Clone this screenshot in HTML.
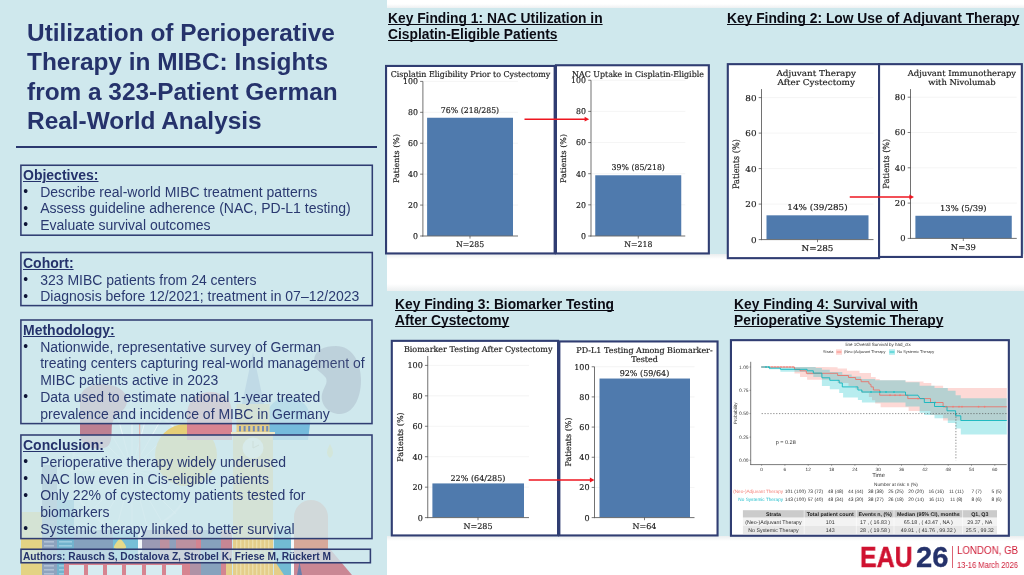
<!DOCTYPE html>
<html lang="en"><head><meta charset="utf-8"><title>Utilization of Perioperative Therapy in MIBC</title>
<style>
html,body{margin:0;padding:0}
body{width:1024px;height:575px;position:relative;overflow:hidden;background:#fff;-webkit-font-smoothing:antialiased;font-family:"Liberation Sans",sans-serif}
.abs{position:absolute}
.title,.txt,.kf,.auth,svg,.lg{will-change:transform}
.panel{left:0;top:0;width:386.6px;height:575px;background:#cfe8ed}
.band{left:386px;width:638px;background:#cfe8ed}
.title{left:27.0px;top:17.65px;font-size:24.42px;line-height:29.35px;font-weight:bold;color:#25326b;white-space:nowrap}
.rule{left:16px;top:145.5px;width:361.3px;height:2px;background:#2b386f}
.box{border:1.6px solid #303d72;box-sizing:border-box;background:rgba(207,232,237,0.87)}
.txt{font-size:14px;line-height:16.67px;color:#2a3970;white-space:nowrap}
.txt b{color:#25326b;text-decoration:underline;text-decoration-thickness:1.2px;text-underline-offset:0.7px}
.li{position:relative;padding-left:17.2px}
.li i{position:absolute;left:0.2px;top:0.3px;font-style:normal;font-size:13.8px;color:#0e1436}
.kf{font-size:13.8px;line-height:15.8px;text-decoration-skip-ink:none;font-weight:bold;color:#0b0b14;text-decoration:underline;text-decoration-thickness:1.4px;text-underline-offset:1.0px;white-space:nowrap}
.auth{font-size:10.2px;line-height:12px;font-weight:bold;color:#25326b;white-space:nowrap}
svg text{font-family:"DejaVu Serif",serif;text-rendering:geometricPrecision}
svg .c text{stroke:#242424;stroke-width:0.18px}
</style></head><body>

<div class="abs panel"></div>
<div class="abs band" style="top:7.8px;height:246.4px"></div>
<div class="abs band" style="top:291.2px;height:245.1px"></div>
<div class="abs" style="left:386.6px;width:637.4px;top:3.5px;height:4.3px;background:linear-gradient(#fff,#eef0f1)"></div>
<div class="abs" style="left:386.6px;width:637.4px;top:254.2px;height:5px;background:linear-gradient(#ebeeef,#fff)"></div>
<div class="abs" style="left:386.6px;width:637.4px;top:284px;height:7.2px;background:linear-gradient(#fff,#eceff0)"></div>
<div class="abs" style="left:386.6px;width:637.4px;top:536.3px;height:5px;background:linear-gradient(#ebeeef,#fff)"></div>
<svg class="abs" style="left:0;top:0;opacity:0.8" width="386" height="575" viewBox="0 0 386 575">
<g stroke="#ffffff" stroke-width="0.9" opacity="0.7">
<line x1="132" y1="470" x2="194.0" y2="470.0"/>
<line x1="132" y1="470" x2="191.9" y2="486.0"/>
<line x1="132" y1="470" x2="185.7" y2="501.0"/>
<line x1="132" y1="470" x2="175.8" y2="513.8"/>
<line x1="132" y1="470" x2="163.0" y2="523.7"/>
<line x1="132" y1="470" x2="148.0" y2="529.9"/>
<line x1="132" y1="470" x2="132.0" y2="532.0"/>
<line x1="132" y1="470" x2="116.0" y2="529.9"/>
<line x1="132" y1="470" x2="101.0" y2="523.7"/>
<line x1="132" y1="470" x2="88.2" y2="513.8"/>
<line x1="132" y1="470" x2="78.3" y2="501.0"/>
<line x1="132" y1="470" x2="72.1" y2="486.0"/>
<line x1="132" y1="470" x2="70.0" y2="470.0"/>
<line x1="132" y1="470" x2="72.1" y2="454.0"/>
<line x1="132" y1="470" x2="78.3" y2="439.0"/>
<line x1="132" y1="470" x2="88.2" y2="426.2"/>
<line x1="132" y1="470" x2="101.0" y2="416.3"/>
<line x1="132" y1="470" x2="116.0" y2="410.1"/>
<line x1="132" y1="470" x2="132.0" y2="408.0"/>
<line x1="132" y1="470" x2="148.0" y2="410.1"/>
<line x1="132" y1="470" x2="163.0" y2="416.3"/>
<line x1="132" y1="470" x2="175.8" y2="426.2"/>
<line x1="132" y1="470" x2="185.7" y2="439.0"/>
<line x1="132" y1="470" x2="191.9" y2="454.0"/>
</g>
<circle cx="132" cy="470" r="60" fill="none" stroke="#fff" stroke-width="2" opacity="0.5"/>
<path d="M80 400 C80 388 92 383 104 384 C118 385 128 392 127 402 C126 412 114 414 112 424 C111 432 113 440 108 446 C100 452 82 448 80 436 Z" fill="#b9677c"/>
<circle cx="186" cy="455" r="31" fill="#ecc85a"/>
<rect x="139" y="424" width="1.3" height="40" fill="#e5a89c"/>
<path d="M187 440 L187 412 Q190 392 212 392 Q232 394 232 414 L232 440 Z" fill="#dc6c7b"/>
<path d="M268 440 L268 410 Q275 396 292 398 Q312 402 310 424 L308 440 Z" fill="#5fb0d8"/>
<path d="M253 352 L264 404 L242 404 Z" fill="#7f9fc8"/>
<rect x="236.5" y="404" width="33" height="28" fill="#eac872"/>
<rect x="231" y="432" width="44" height="2.4" fill="#f5e9bd"/>
<rect x="233" y="434" width="40" height="141" fill="#eac872"/>
<rect x="239" y="426" width="2" height="5.4" fill="#5d74a8"/>
<rect x="243.6" y="426" width="2" height="5.4" fill="#5d74a8"/>
<rect x="248.2" y="426" width="2" height="5.4" fill="#5d74a8"/>
<rect x="252.8" y="426" width="2" height="5.4" fill="#5d74a8"/>
<rect x="257.4" y="426" width="2" height="5.4" fill="#5d74a8"/>
<rect x="262" y="426" width="2" height="5.4" fill="#5d74a8"/>
<rect x="266.2" y="426" width="2" height="5.4" fill="#5d74a8"/>
<circle cx="253" cy="448" r="10.5" fill="#f7f1dc"/>
<path d="M253 441 L253 448 L259 445" stroke="#c9b98a" stroke-width="1" fill="none"/>
<path d="M330 444 Q336 454 330 458 Q324 454 330 444 Z" fill="#e6e08a"/>
<rect x="236" y="538" width="1.4" height="37" fill="#f3dc9a"/>
<rect x="240" y="538" width="1.4" height="37" fill="#f3dc9a"/>
<rect x="244" y="538" width="1.4" height="37" fill="#f3dc9a"/>
<rect x="248" y="538" width="1.4" height="37" fill="#f3dc9a"/>
<rect x="252" y="538" width="1.4" height="37" fill="#f3dc9a"/>
<rect x="256" y="538" width="1.4" height="37" fill="#f3dc9a"/>
<rect x="260" y="538" width="1.4" height="37" fill="#f3dc9a"/>
<rect x="264" y="538" width="1.4" height="37" fill="#f3dc9a"/>
<rect x="268" y="538" width="1.4" height="37" fill="#f3dc9a"/>
<rect x="21" y="512" width="21" height="63" fill="#e9cf6b"/>
<rect x="42" y="465" width="15" height="110" fill="#7e92b3"/>
<rect x="57" y="500" width="17" height="75" fill="#5ba7c6"/>
<rect x="74" y="530" width="39" height="45" fill="#7391b3"/>
<rect x="113" y="530" width="25" height="45" fill="#60b6d2"/>
<rect x="138" y="530" width="4" height="45" fill="#ffffff"/>
<rect x="142" y="530" width="18" height="45" fill="#8f87a6"/>
<rect x="160" y="530" width="41" height="45" fill="#b87c8e"/>
<rect x="201" y="530" width="20" height="45" fill="#7691b2"/>
<rect x="221" y="530" width="11" height="45" fill="#c56f7f"/>
<rect x="274" y="530" width="17" height="45" fill="#5bb1cd"/>
<rect x="291" y="530" width="3" height="45" fill="#ffffff"/>
<rect x="294" y="538" width="34" height="37" fill="#dca181"/>
<rect x="44" y="541" width="10" height="1.6" fill="#a9b8d0"/>
<rect x="59" y="541" width="13" height="1.6" fill="#8fc6dc"/>
<rect x="44" y="545" width="10" height="1.6" fill="#a9b8d0"/>
<rect x="59" y="545" width="13" height="1.6" fill="#8fc6dc"/>
<rect x="44" y="565" width="10" height="1.6" fill="#a9b8d0"/>
<rect x="59" y="565" width="13" height="1.6" fill="#8fc6dc"/>
<rect x="44" y="569" width="10" height="1.6" fill="#a9b8d0"/>
<rect x="59" y="569" width="13" height="1.6" fill="#8fc6dc"/>
<rect x="44" y="573" width="10" height="1.6" fill="#a9b8d0"/>
<rect x="59" y="573" width="13" height="1.6" fill="#8fc6dc"/>
<path d="M120 538 Q127 546 126 548 Q120 552 114 548 Q113 546 120 538 Z" fill="#ecd872"/>
<rect x="169.5" y="538" width="6.5" height="12" fill="#7f8fb0"/>
<rect x="196" y="538" width="5" height="12" fill="#d56c7a"/>
<path d="M294 549 L294 517 A17 17 0 0 1 328 517 L328 549 Z" fill="#d99a86"/>
<rect x="64" y="560" width="126" height="15" fill="#d96c79"/>
<rect x="69" y="565" width="15" height="10" fill="#d9edf2"/>
<rect x="88" y="565" width="15" height="10" fill="#d9edf2"/>
<rect x="107" y="565" width="15" height="10" fill="#d9edf2"/>
<rect x="126" y="565" width="16" height="10" fill="#d9edf2"/>
<rect x="146" y="565" width="16" height="10" fill="#d9edf2"/>
<rect x="166" y="565" width="16" height="10" fill="#d9edf2"/>
<rect x="190" y="560" width="11" height="15" fill="#a87d95"/>
<rect x="221" y="560" width="5" height="15" fill="#d56c7a"/>
<rect x="226" y="560" width="6" height="15" fill="#eac872"/>
<path d="M274 560 L291 560 L291 575 L284 575 Z" fill="#5bb1cd"/><path d="M274 560 L284 575 L274 575 Z" fill="#eac872"/>
<path d="M294 549 L330 549 L352 575 L294 575 Z" fill="#ca707f"/>
<path d="M297 575 L299.5 562 L302 575 Z" fill="#50649a"/>
</svg>
<div class="abs title">Utilization of Perioperative<br>Therapy in MIBC: Insights<br>from a 323-Patient German<br>Real-World Analysis</div>
<div class="abs rule"></div>
<svg class="abs" style="left:18px;top:163px" width="357" height="75"><rect x="2.90" y="2.25" width="351.40" height="69.95" fill="rgb(207,232,237)" fill-opacity="0.77" stroke="#303d72" stroke-width="1.55"/></svg>
<div class="abs txt" style="left:23.4px;top:167.09px;line-height:16.67px"><div><b>Objectives:</b></div><div class="li"><i>•</i>Describe real-world MIBC treatment patterns</div><div class="li"><i>•</i>Assess guideline adherence (NAC, PD-L1 testing)</div><div class="li"><i>•</i>Evaluate survival outcomes</div></div>
<svg class="abs" style="left:18px;top:250px" width="357" height="58"><rect x="2.90" y="2.50" width="351.40" height="53.10" fill="rgb(207,232,237)" fill-opacity="0.77" stroke="#303d72" stroke-width="1.55"/></svg>
<div class="abs txt" style="left:23.4px;top:255.29px;line-height:16.67px"><div><b>Cohort:</b></div><div class="li"><i>•</i>323 MIBC patients from 24 centers</div><div class="li"><i>•</i>Diagnosis before 12/2021; treatment in 07–12/2023</div></div>
<svg class="abs" style="left:18px;top:318px" width="356" height="108"><rect x="2.90" y="2.00" width="351.10" height="103.60" fill="rgb(207,232,237)" fill-opacity="0.77" stroke="#303d72" stroke-width="1.55"/></svg>
<div class="abs txt" style="left:22.7px;top:321.97px;line-height:16.72px"><div><b>Methodology:</b></div><div class="li"><i>•</i>Nationwide, representative survey of German<br>treating centers capturing real-world management of<br>MIBC patients active in 2023</div><div class="li"><i>•</i>Data used to estimate national 1-year treated<br>prevalence and incidence of MIBC in Germany</div></div>
<svg class="abs" style="left:18px;top:433px" width="356" height="108"><rect x="2.90" y="2.00" width="351.10" height="103.60" fill="rgb(207,232,237)" fill-opacity="0.77" stroke="#303d72" stroke-width="1.55"/></svg>
<div class="abs txt" style="left:22.6px;top:436.74px;line-height:16.78px"><div><b>Conclusion:</b></div><div class="li"><i>•</i>Perioperative therapy widely underused</div><div class="li"><i>•</i>NAC low even in Cis-eligible patients</div><div class="li"><i>•</i>Only 22% of cystectomy patients tested for<br>biomarkers</div><div class="li"><i>•</i>Systemic therapy linked to better survival</div></div>
<svg class="abs" style="left:300px;top:340px" width="80" height="80" viewBox="300 340 80 80"><path d="M336 346 C352 346 361 362 361 380 C361 400 352 414 340 414 C328 414 320 404 322 394 C324 386 328 384 326 378 C322 372 313 370 314 360 C315 350 324 346 336 346 Z" fill="rgb(120,120,150)" fill-opacity="0.2"/></svg>
<svg class="abs" style="left:19px;top:547px" width="354" height="18"><rect x="2.00" y="2.25" width="349.40" height="13.50" fill="rgb(207,232,237)" fill-opacity="0.77" stroke="#303d72" stroke-width="1.55"/></svg>
<div class="abs auth" style="left:23.4px;top:550.9px">Authors: Rausch S, Dostalova Z, Strobel K, Friese M, Rückert M</div>
<div class="abs kf" style="left:388.3px;top:11.25px">Key Finding 1: NAC Utilization in<br>Cisplatin-Eligible Patients</div>
<div class="abs kf" style="left:727px;top:11.25px">Key Finding 2: Low Use of Adjuvant Therapy</div>
<div class="abs kf" style="left:394.8px;top:297.25px">Key Finding 3: Biomarker Testing<br>After Cystectomy</div>
<div class="abs kf" style="left:733.6px;top:297.25px">Key Finding 4: Survival with<br>Perioperative Systemic Therapy</div>
<svg class="abs" style="left:0;top:0" width="1024" height="575" viewBox="0 0 1024 575">
<g class="c">
<rect x="386.05" y="65.95" width="168.60000000000005" height="187.5" fill="#fff" stroke="#303d72" stroke-width="2.1"/>
<rect x="555.9499999999999" y="65.25" width="152.9" height="188.20000000000002" fill="#fff" stroke="#303d72" stroke-width="2.1"/>
<line x1="422.9" y1="205.08" x2="518" y2="205.08" stroke="#ededed" stroke-width="0.6"/>
<line x1="422.9" y1="174.16" x2="518" y2="174.16" stroke="#ededed" stroke-width="0.6"/>
<line x1="422.9" y1="143.24" x2="518" y2="143.24" stroke="#ededed" stroke-width="0.6"/>
<line x1="422.9" y1="112.32" x2="518" y2="112.32" stroke="#ededed" stroke-width="0.6"/>
<line x1="422.9" y1="81.40" x2="518" y2="81.40" stroke="#ededed" stroke-width="0.6"/>
<rect x="427.1" y="117.75" width="85.90" height="118.25" fill="#4f7aad"/>
<line x1="422.9" y1="81.40" x2="422.9" y2="236.5" stroke="#6a6a6a" stroke-width="0.95"/>
<line x1="422.4" y1="236" x2="518" y2="236" stroke="#6a6a6a" stroke-width="0.95"/>
<line x1="420.09999999999997" y1="236.00" x2="422.9" y2="236.00" stroke="#444" stroke-width="0.7"/>
<text transform="translate(417.90,238.90) scale(0.975,1)" font-size="8.0" text-anchor="end" fill="#242424">0</text>
<line x1="420.09999999999997" y1="205.08" x2="422.9" y2="205.08" stroke="#444" stroke-width="0.7"/>
<text transform="translate(417.90,207.98) scale(0.975,1)" font-size="8.0" text-anchor="end" fill="#242424">20</text>
<line x1="420.09999999999997" y1="174.16" x2="422.9" y2="174.16" stroke="#444" stroke-width="0.7"/>
<text transform="translate(417.90,177.06) scale(0.975,1)" font-size="8.0" text-anchor="end" fill="#242424">40</text>
<line x1="420.09999999999997" y1="143.24" x2="422.9" y2="143.24" stroke="#444" stroke-width="0.7"/>
<text transform="translate(417.90,146.14) scale(0.975,1)" font-size="8.0" text-anchor="end" fill="#242424">60</text>
<line x1="420.09999999999997" y1="112.32" x2="422.9" y2="112.32" stroke="#444" stroke-width="0.7"/>
<text transform="translate(417.90,115.22) scale(0.975,1)" font-size="8.0" text-anchor="end" fill="#242424">80</text>
<line x1="420.09999999999997" y1="81.40" x2="422.9" y2="81.40" stroke="#444" stroke-width="0.7"/>
<text transform="translate(417.90,84.30) scale(0.975,1)" font-size="8.0" text-anchor="end" fill="#242424">100</text>
<line x1="470" y1="236" x2="470" y2="238.6" stroke="#444" stroke-width="0.7"/>
<text transform="translate(470.50,76.90) scale(0.975,1)" font-size="8.15" text-anchor="middle" fill="#242424">Cisplatin Eligibility Prior to Cystectomy</text>
<text transform="translate(470.00,112.50) scale(0.975,1)" font-size="8.0" text-anchor="middle" fill="#242424">76% (218/285)</text>
<text transform="translate(470.00,247.25) scale(0.975,1)" font-size="8.0" text-anchor="middle" fill="#242424">N=285</text>
<text transform="translate(398.60,158.50) rotate(-90) scale(1,0.975)" font-size="8.0" text-anchor="middle" fill="#242424">Patients (%)</text>
<line x1="591" y1="204.85" x2="685.25" y2="204.85" stroke="#ededed" stroke-width="0.6"/>
<line x1="591" y1="173.70" x2="685.25" y2="173.70" stroke="#ededed" stroke-width="0.6"/>
<line x1="591" y1="142.55" x2="685.25" y2="142.55" stroke="#ededed" stroke-width="0.6"/>
<line x1="591" y1="111.40" x2="685.25" y2="111.40" stroke="#ededed" stroke-width="0.6"/>
<line x1="591" y1="80.25" x2="685.25" y2="80.25" stroke="#ededed" stroke-width="0.6"/>
<rect x="595.25" y="175.27" width="86.00" height="60.73" fill="#4f7aad"/>
<line x1="591" y1="80.25" x2="591" y2="236.5" stroke="#6a6a6a" stroke-width="0.95"/>
<line x1="590.5" y1="236" x2="685.25" y2="236" stroke="#6a6a6a" stroke-width="0.95"/>
<line x1="588.2" y1="236.00" x2="591" y2="236.00" stroke="#444" stroke-width="0.7"/>
<text transform="translate(586.00,238.90) scale(0.975,1)" font-size="8.0" text-anchor="end" fill="#242424">0</text>
<line x1="588.2" y1="204.85" x2="591" y2="204.85" stroke="#444" stroke-width="0.7"/>
<text transform="translate(586.00,207.75) scale(0.975,1)" font-size="8.0" text-anchor="end" fill="#242424">20</text>
<line x1="588.2" y1="173.70" x2="591" y2="173.70" stroke="#444" stroke-width="0.7"/>
<text transform="translate(586.00,176.60) scale(0.975,1)" font-size="8.0" text-anchor="end" fill="#242424">40</text>
<line x1="588.2" y1="142.55" x2="591" y2="142.55" stroke="#444" stroke-width="0.7"/>
<text transform="translate(586.00,145.45) scale(0.975,1)" font-size="8.0" text-anchor="end" fill="#242424">60</text>
<line x1="588.2" y1="111.40" x2="591" y2="111.40" stroke="#444" stroke-width="0.7"/>
<text transform="translate(586.00,114.30) scale(0.975,1)" font-size="8.0" text-anchor="end" fill="#242424">80</text>
<line x1="588.2" y1="80.25" x2="591" y2="80.25" stroke="#444" stroke-width="0.7"/>
<text transform="translate(586.00,83.15) scale(0.975,1)" font-size="8.0" text-anchor="end" fill="#242424">100</text>
<line x1="638.25" y1="236" x2="638.25" y2="238.6" stroke="#444" stroke-width="0.7"/>
<text transform="translate(638.00,76.90) scale(0.975,1)" font-size="8.1" text-anchor="middle" fill="#242424">NAC Uptake in Cisplatin-Eligible</text>
<text transform="translate(638.25,170.25) scale(0.975,1)" font-size="8.0" text-anchor="middle" fill="#242424">39% (85/218)</text>
<text transform="translate(638.25,247.25) scale(0.975,1)" font-size="8.0" text-anchor="middle" fill="#242424">N=218</text>
<text transform="translate(566.45,158.50) rotate(-90) scale(1,0.975)" font-size="8.0" text-anchor="middle" fill="#242424">Patients (%)</text>
<line x1="524.5" y1="119.2" x2="586.7" y2="119.2" stroke="#ee1620" stroke-width="1.6"/>
<path d="M589.2 119.2 L584.6 116.8 L584.6 121.60000000000001 Z" fill="#ee1620"/>
<rect x="727.8" y="64.15" width="151.25000000000003" height="194.0" fill="#fff" stroke="#303d72" stroke-width="2.1"/>
<rect x="879.05" y="64.15" width="142.79999999999998" height="192.8" fill="#fff" stroke="#303d72" stroke-width="2.1"/>
<line x1="761.5" y1="204.10" x2="873.5" y2="204.10" stroke="#ededed" stroke-width="0.6"/>
<line x1="761.5" y1="168.60" x2="873.5" y2="168.60" stroke="#ededed" stroke-width="0.6"/>
<line x1="761.5" y1="133.10" x2="873.5" y2="133.10" stroke="#ededed" stroke-width="0.6"/>
<line x1="761.5" y1="97.60" x2="873.5" y2="97.60" stroke="#ededed" stroke-width="0.6"/>
<rect x="766.5" y="215.32" width="102.00" height="24.28" fill="#4f7aad"/>
<line x1="761.5" y1="89.08" x2="761.5" y2="240.1" stroke="#6a6a6a" stroke-width="0.95"/>
<line x1="761.0" y1="239.6" x2="873.5" y2="239.6" stroke="#6a6a6a" stroke-width="0.95"/>
<line x1="758.7" y1="239.60" x2="761.5" y2="239.60" stroke="#444" stroke-width="0.7"/>
<text transform="translate(756.50,242.50) scale(1.085,1)" font-size="8.15" text-anchor="end" fill="#242424">0</text>
<line x1="758.7" y1="204.10" x2="761.5" y2="204.10" stroke="#444" stroke-width="0.7"/>
<text transform="translate(756.50,207.00) scale(1.085,1)" font-size="8.15" text-anchor="end" fill="#242424">20</text>
<line x1="758.7" y1="168.60" x2="761.5" y2="168.60" stroke="#444" stroke-width="0.7"/>
<text transform="translate(756.50,171.50) scale(1.085,1)" font-size="8.15" text-anchor="end" fill="#242424">40</text>
<line x1="758.7" y1="133.10" x2="761.5" y2="133.10" stroke="#444" stroke-width="0.7"/>
<text transform="translate(756.50,136.00) scale(1.085,1)" font-size="8.15" text-anchor="end" fill="#242424">60</text>
<line x1="758.7" y1="97.60" x2="761.5" y2="97.60" stroke="#444" stroke-width="0.7"/>
<text transform="translate(756.50,100.50) scale(1.085,1)" font-size="8.15" text-anchor="end" fill="#242424">80</text>
<line x1="817.5" y1="239.6" x2="817.5" y2="242.2" stroke="#444" stroke-width="0.7"/>
<text transform="translate(816.20,75.60) scale(1.085,1)" font-size="8.15" text-anchor="middle" fill="#242424">Adjuvant Therapy</text>
<text transform="translate(816.20,85.40) scale(1.085,1)" font-size="8.15" text-anchor="middle" fill="#242424">After Cystectomy</text>
<text transform="translate(817.50,210.40) scale(1.085,1)" font-size="8.15" text-anchor="middle" fill="#242424">14% (39/285)</text>
<text transform="translate(817.50,251.00) scale(1.085,1)" font-size="8.15" text-anchor="middle" fill="#242424">N=285</text>
<text transform="translate(739.20,164.10) rotate(-90) scale(1,1.085)" font-size="8.15" text-anchor="middle" fill="#242424">Patients (%)</text>
<line x1="910.5" y1="203.10" x2="1016.75" y2="203.10" stroke="#ededed" stroke-width="0.6"/>
<line x1="910.5" y1="167.80" x2="1016.75" y2="167.80" stroke="#ededed" stroke-width="0.6"/>
<line x1="910.5" y1="132.50" x2="1016.75" y2="132.50" stroke="#ededed" stroke-width="0.6"/>
<line x1="910.5" y1="97.20" x2="1016.75" y2="97.20" stroke="#ededed" stroke-width="0.6"/>
<rect x="915.4" y="215.77" width="96.35" height="22.63" fill="#4f7aad"/>
<line x1="910.5" y1="89.08" x2="910.5" y2="238.9" stroke="#6a6a6a" stroke-width="0.95"/>
<line x1="910.0" y1="238.4" x2="1016.75" y2="238.4" stroke="#6a6a6a" stroke-width="0.95"/>
<line x1="907.7" y1="238.40" x2="910.5" y2="238.40" stroke="#444" stroke-width="0.7"/>
<text transform="translate(905.50,241.30) scale(1.03,1)" font-size="8.15" text-anchor="end" fill="#242424">0</text>
<line x1="907.7" y1="203.10" x2="910.5" y2="203.10" stroke="#444" stroke-width="0.7"/>
<text transform="translate(905.50,206.00) scale(1.03,1)" font-size="8.15" text-anchor="end" fill="#242424">20</text>
<line x1="907.7" y1="167.80" x2="910.5" y2="167.80" stroke="#444" stroke-width="0.7"/>
<text transform="translate(905.50,170.70) scale(1.03,1)" font-size="8.15" text-anchor="end" fill="#242424">40</text>
<line x1="907.7" y1="132.50" x2="910.5" y2="132.50" stroke="#444" stroke-width="0.7"/>
<text transform="translate(905.50,135.40) scale(1.03,1)" font-size="8.15" text-anchor="end" fill="#242424">60</text>
<line x1="907.7" y1="97.20" x2="910.5" y2="97.20" stroke="#444" stroke-width="0.7"/>
<text transform="translate(905.50,100.10) scale(1.03,1)" font-size="8.15" text-anchor="end" fill="#242424">80</text>
<line x1="963.3" y1="238.4" x2="963.3" y2="241.0" stroke="#444" stroke-width="0.7"/>
<text transform="translate(961.90,75.60) scale(1.03,1)" font-size="8.15" text-anchor="middle" fill="#242424">Adjuvant Immunotherapy</text>
<text transform="translate(961.90,85.40) scale(1.03,1)" font-size="8.15" text-anchor="middle" fill="#242424">with Nivolumab</text>
<text transform="translate(963.30,210.70) scale(1.03,1)" font-size="8.15" text-anchor="middle" fill="#242424">13% (5/39)</text>
<text transform="translate(963.30,250.00) scale(1.03,1)" font-size="8.15" text-anchor="middle" fill="#242424">N=39</text>
<text transform="translate(889.45,163.70) rotate(-90) scale(1,1.03)" font-size="8.15" text-anchor="middle" fill="#242424">Patients (%)</text>
<line x1="849.75" y1="197" x2="911.5" y2="197" stroke="#ee1620" stroke-width="1.6"/>
<path d="M914 197 L909.4 194.6 L909.4 199.4 Z" fill="#ee1620"/>
<rect x="391.8" y="340.85" width="166.25000000000003" height="194.6" fill="#fff" stroke="#303d72" stroke-width="2.1"/>
<rect x="559.3499999999999" y="341.45" width="158.20000000000007" height="194.00000000000003" fill="#fff" stroke="#303d72" stroke-width="2.1"/>
<line x1="427.75" y1="487.16" x2="529" y2="487.16" stroke="#ededed" stroke-width="0.6"/>
<line x1="427.75" y1="456.72" x2="529" y2="456.72" stroke="#ededed" stroke-width="0.6"/>
<line x1="427.75" y1="426.28" x2="529" y2="426.28" stroke="#ededed" stroke-width="0.6"/>
<line x1="427.75" y1="395.84" x2="529" y2="395.84" stroke="#ededed" stroke-width="0.6"/>
<line x1="427.75" y1="365.40" x2="529" y2="365.40" stroke="#ededed" stroke-width="0.6"/>
<rect x="432.4" y="483.42" width="91.60" height="34.18" fill="#4f7aad"/>
<line x1="427.75" y1="355.96" x2="427.75" y2="518.1" stroke="#6a6a6a" stroke-width="0.95"/>
<line x1="427.25" y1="517.6" x2="529" y2="517.6" stroke="#6a6a6a" stroke-width="0.95"/>
<line x1="424.95" y1="517.60" x2="427.75" y2="517.60" stroke="#444" stroke-width="0.7"/>
<text x="422.75" y="520.50" font-size="8.05" text-anchor="end" fill="#242424">0</text>
<line x1="424.95" y1="487.16" x2="427.75" y2="487.16" stroke="#444" stroke-width="0.7"/>
<text x="422.75" y="490.06" font-size="8.05" text-anchor="end" fill="#242424">20</text>
<line x1="424.95" y1="456.72" x2="427.75" y2="456.72" stroke="#444" stroke-width="0.7"/>
<text x="422.75" y="459.62" font-size="8.05" text-anchor="end" fill="#242424">40</text>
<line x1="424.95" y1="426.28" x2="427.75" y2="426.28" stroke="#444" stroke-width="0.7"/>
<text x="422.75" y="429.18" font-size="8.05" text-anchor="end" fill="#242424">60</text>
<line x1="424.95" y1="395.84" x2="427.75" y2="395.84" stroke="#444" stroke-width="0.7"/>
<text x="422.75" y="398.74" font-size="8.05" text-anchor="end" fill="#242424">80</text>
<line x1="424.95" y1="365.40" x2="427.75" y2="365.40" stroke="#444" stroke-width="0.7"/>
<text x="422.75" y="368.30" font-size="8.05" text-anchor="end" fill="#242424">100</text>
<line x1="478" y1="517.6" x2="478" y2="520.2" stroke="#444" stroke-width="0.7"/>
<text x="478.20" y="352.00" font-size="8.05" text-anchor="middle" fill="#242424">Biomarker Testing After Cystectomy</text>
<text x="478.00" y="480.50" font-size="8.05" text-anchor="middle" fill="#242424">22% (64/285)</text>
<text x="478.00" y="529.00" font-size="8.05" text-anchor="middle" fill="#242424">N=285</text>
<text transform="translate(402.60,437.00) rotate(-90) scale(1,1.0)" font-size="8.05" text-anchor="middle" fill="#242424">Patients (%)</text>
<line x1="594.5" y1="487.43" x2="694.5" y2="487.43" stroke="#ededed" stroke-width="0.6"/>
<line x1="594.5" y1="457.26" x2="694.5" y2="457.26" stroke="#ededed" stroke-width="0.6"/>
<line x1="594.5" y1="427.09" x2="694.5" y2="427.09" stroke="#ededed" stroke-width="0.6"/>
<line x1="594.5" y1="396.92" x2="694.5" y2="396.92" stroke="#ededed" stroke-width="0.6"/>
<line x1="594.5" y1="366.75" x2="694.5" y2="366.75" stroke="#ededed" stroke-width="0.6"/>
<rect x="599.5" y="378.53" width="90.50" height="139.07" fill="#4f7aad"/>
<line x1="594.5" y1="366.75" x2="594.5" y2="518.1" stroke="#6a6a6a" stroke-width="0.95"/>
<line x1="594.0" y1="517.6" x2="694.5" y2="517.6" stroke="#6a6a6a" stroke-width="0.95"/>
<line x1="591.7" y1="517.60" x2="594.5" y2="517.60" stroke="#444" stroke-width="0.7"/>
<text x="589.50" y="520.50" font-size="8.0" text-anchor="end" fill="#242424">0</text>
<line x1="591.7" y1="487.43" x2="594.5" y2="487.43" stroke="#444" stroke-width="0.7"/>
<text x="589.50" y="490.33" font-size="8.0" text-anchor="end" fill="#242424">20</text>
<line x1="591.7" y1="457.26" x2="594.5" y2="457.26" stroke="#444" stroke-width="0.7"/>
<text x="589.50" y="460.16" font-size="8.0" text-anchor="end" fill="#242424">40</text>
<line x1="591.7" y1="427.09" x2="594.5" y2="427.09" stroke="#444" stroke-width="0.7"/>
<text x="589.50" y="429.99" font-size="8.0" text-anchor="end" fill="#242424">60</text>
<line x1="591.7" y1="396.92" x2="594.5" y2="396.92" stroke="#444" stroke-width="0.7"/>
<text x="589.50" y="399.82" font-size="8.0" text-anchor="end" fill="#242424">80</text>
<line x1="591.7" y1="366.75" x2="594.5" y2="366.75" stroke="#444" stroke-width="0.7"/>
<text x="589.50" y="369.65" font-size="8.0" text-anchor="end" fill="#242424">100</text>
<line x1="644.5" y1="517.6" x2="644.5" y2="520.2" stroke="#444" stroke-width="0.7"/>
<text x="644.50" y="352.50" font-size="8.0" text-anchor="middle" fill="#242424">PD-L1 Testing Among Biomarker-</text>
<text x="644.50" y="362.25" font-size="8.0" text-anchor="middle" fill="#242424">Tested</text>
<text x="644.50" y="375.50" font-size="8.0" text-anchor="middle" fill="#242424">92% (59/64)</text>
<text x="644.50" y="529.25" font-size="8.0" text-anchor="middle" fill="#242424">N=64</text>
<text transform="translate(570.95,442.00) rotate(-90) scale(1,1.0)" font-size="8.0" text-anchor="middle" fill="#242424">Patients (%)</text>
<line x1="528.75" y1="480" x2="592.0" y2="480" stroke="#ee1620" stroke-width="1.6"/>
<path d="M594.5 480 L589.9 477.6 L589.9 482.4 Z" fill="#ee1620"/>
</g>
<rect x="730.9499999999999" y="340.15000000000003" width="277.9" height="195.59999999999994" fill="#fff" stroke="#303d72" stroke-width="2.1"/>
<g font-family="Liberation Sans, sans-serif" style="font-family:'Liberation Sans',sans-serif">
<text x="878.2" y="345.7" font-size="4.5" text-anchor="middle" fill="#333" font-weight="normal" style="font-family:'Liberation Sans',sans-serif" >line 1Overall Survival by had_ctx</text>
<text x="823.0" y="353.2" font-size="3.9" text-anchor="start" fill="#333" font-weight="normal" style="font-family:'Liberation Sans',sans-serif" >Strata</text>
<rect x="836" y="349.3" width="6" height="5.5" fill="#f8766d" fill-opacity="0.3"/><line x1="836.6" y1="352" x2="841.4" y2="352" stroke="#f8766d" stroke-width="0.8"/>
<text x="844.0" y="353.2" font-size="3.9" text-anchor="start" fill="#333" font-weight="normal" style="font-family:'Liberation Sans',sans-serif" >(Neo-)Adjuvant Therapy</text>
<rect x="889" y="349.3" width="6" height="5.5" fill="#00bfc4" fill-opacity="0.3"/><line x1="889.6" y1="352" x2="894.4" y2="352" stroke="#00bfc4" stroke-width="0.8"/>
<text x="897.2" y="353.2" font-size="3.9" text-anchor="start" fill="#333" font-weight="normal" style="font-family:'Liberation Sans',sans-serif" >No Systemic Therapy</text>
<polygon points="761.2,367.0 821.9,367.0 837.6,367.3 837.6,368.6 847.0,368.6 847.0,370.8 859.5,370.8 859.5,373.1 871.2,373.1 871.0,373.1 871.0,377.0 875.7,377.0 875.7,379.1 879.7,379.1 879.7,380.3 905.5,380.3 905.5,381.4 923.5,381.4 923.5,383.0 931.3,383.0 931.3,385.8 943.1,385.8 943.1,388.1 1006.8,388.1 1006.8,420.5 943.1,420.5 943.1,415.1 930.5,415.1 930.5,411.1 908.6,411.1 908.6,407.2 888.0,407.2 880.6,407.2 880.6,403.6 875.2,403.6 875.2,400.2 872.0,400.2 872.0,397.1 868.9,397.1 868.9,393.1 861.1,393.1 861.1,389.2 855.6,389.2 855.6,386.1 848.5,386.1 848.5,383.0 837.6,383.0 837.6,379.8 807.1,379.8 807.1,377.0 800.0,377.0 800.0,373.6 794.5,373.6 794.5,367.0" fill="#f8766d" fill-opacity="0.28"/>
<polygon points="761.2,367.0 815.7,367.0 815.7,368.1 821.9,368.1 821.9,369.7 829.8,369.7 829.8,372.0 842.3,372.0 842.3,374.4 851.7,374.4 851.7,376.4 861.1,376.4 861.1,379.1 875.2,379.1 875.2,380.3 888.0,380.3 905.5,380.3 905.5,382.2 919.6,382.2 919.6,385.8 934.5,385.8 934.5,388.1 947.8,388.1 947.8,390.8 955.6,390.8 955.6,395.2 960.8,395.2 960.8,398.2 1006.8,398.2 1006.8,434.6 960.8,434.6 960.8,428.4 955.6,428.4 955.6,422.9 947.8,422.9 947.8,418.2 934.5,418.2 934.5,415.1 924.3,415.1 924.3,412.7 919.6,412.7 919.6,406.5 905.5,406.5 905.5,402.5 888.0,402.5 861.9,402.5 861.9,399.9 857.9,399.9 857.9,397.4 843.1,397.4 843.1,393.1 839.2,393.1 839.2,389.2 829.8,389.2 829.8,386.1 821.9,386.1 821.9,377.0 813.3,377.0 813.3,374.4 807.1,374.4 807.1,371.7 780.4,371.7 780.4,369.2 769.0,369.2 769.0,367.0" fill="#00bfc4" fill-opacity="0.28"/>
<polyline points="761.2,367.0 794.5,367.0 794.5,369.3 800.0,369.3 800.0,370.8 806.3,370.8 806.3,373.3 837.6,373.3 837.6,375.5 848.5,375.5 848.5,377.5 855.6,377.5 855.6,379.5 861.1,379.5 861.1,381.7 868.9,381.7 868.9,383.7 871.0,384.5 871.0,386.9 873.4,386.9 873.4,390.0 879.7,390.0 879.7,395.2 907.8,395.2 907.8,398.6 930.5,398.6 930.5,402.5 943.1,402.5 943.1,406.8 1006.8,406.8" fill="none" stroke="#e8746c" stroke-width="0.9"/>
<polyline points="761.2,367.0 769.0,367.0 769.0,368.1 780.4,368.1 780.4,369.3 807.1,369.3 807.1,370.8 813.3,370.8 813.3,373.1 821.9,373.1 821.9,377.8 829.8,377.8 829.8,380.3 839.2,380.3 839.2,383.0 842.3,383.0 842.3,386.9 857.9,386.9 857.9,390.0 861.9,390.0 861.9,392.0 888.0,392.0 905.5,392.0 905.5,395.2 918.0,395.2 920.0,398.6 924.3,398.6 924.3,402.5 934.5,402.5 934.5,406.5 947.0,406.5 947.0,410.8 955.6,410.8 955.6,415.8 960.8,415.8 960.8,420.5 1006.8,420.5" fill="none" stroke="#0fb5bd" stroke-width="0.9"/>
<path d="M772 366.2v1.6M771.2 367h1.6" stroke="#f8766d" stroke-width="0.5"/>
<path d="M775 366.2v1.6M774.2 367h1.6" stroke="#f8766d" stroke-width="0.5"/>
<path d="M778 366.2v1.6M777.2 367h1.6" stroke="#f8766d" stroke-width="0.5"/>
<path d="M781 366.2v1.6M780.2 367h1.6" stroke="#f8766d" stroke-width="0.5"/>
<path d="M784 366.2v1.6M783.2 367h1.6" stroke="#f8766d" stroke-width="0.5"/>
<path d="M787 366.2v1.6M786.2 367h1.6" stroke="#f8766d" stroke-width="0.5"/>
<path d="M790 366.2v1.6M789.2 367h1.6" stroke="#f8766d" stroke-width="0.5"/>
<path d="M793 366.2v1.6M792.2 367h1.6" stroke="#f8766d" stroke-width="0.5"/>
<path d="M946 405.8v1.8M945.1 406.7h1.8" stroke="#f8766d" stroke-width="0.6"/>
<path d="M953 405.8v1.8M952.1 406.7h1.8" stroke="#f8766d" stroke-width="0.6"/>
<path d="M959 405.8v1.8M958.1 406.7h1.8" stroke="#f8766d" stroke-width="0.6"/>
<path d="M962 405.8v1.8M961.1 406.7h1.8" stroke="#f8766d" stroke-width="0.6"/>
<path d="M978.6 405.8v1.8M977.7 406.7h1.8" stroke="#f8766d" stroke-width="0.6"/>
<path d="M984.6 405.8v1.8M983.7 406.7h1.8" stroke="#f8766d" stroke-width="0.6"/>
<path d="M890 394.3v1.8M889.1 395.2h1.8" stroke="#f8766d" stroke-width="0.6"/>
<path d="M895 394.3v1.8M894.1 395.2h1.8" stroke="#f8766d" stroke-width="0.6"/>
<path d="M900 394.3v1.8M899.1 395.2h1.8" stroke="#f8766d" stroke-width="0.6"/>
<path d="M918 397.70000000000005v1.8M917.1 398.6h1.8" stroke="#f8766d" stroke-width="0.6"/>
<path d="M766 366.1v1.8M765.1 367h1.8" stroke="#00bfc4" stroke-width="0.6"/>
<path d="M769 366.1v1.8M768.1 367h1.8" stroke="#00bfc4" stroke-width="0.6"/>
<path d="M871 391.1v1.8M870.1 392h1.8" stroke="#00bfc4" stroke-width="0.6"/>
<path d="M880 391.1v1.8M879.1 392h1.8" stroke="#00bfc4" stroke-width="0.6"/>
<path d="M886 391.1v1.8M885.1 392h1.8" stroke="#00bfc4" stroke-width="0.6"/>
<path d="M894 391.1v1.8M893.1 392h1.8" stroke="#00bfc4" stroke-width="0.6"/>
<path d="M935 401.6v1.8M934.1 402.5h1.8" stroke="#00bfc4" stroke-width="0.6"/>
<line x1="761.6" y1="413.6" x2="1006.7" y2="413.6" stroke="#444" stroke-width="0.6" stroke-dasharray="1.3,1.6"/>
<line x1="955.9" y1="413.6" x2="955.9" y2="460.2" stroke="#444" stroke-width="0.6" stroke-dasharray="1.3,1.6"/>
<line x1="750.7" y1="361.8" x2="750.7" y2="464.9" stroke="#444" stroke-width="0.7"/>
<line x1="750.4" y1="464.6" x2="1006.7" y2="464.6" stroke="#444" stroke-width="0.7"/>
<line x1="749.5" y1="367" x2="750.7" y2="367" stroke="#444" stroke-width="0.5"/>
<text x="748.6" y="368.7" font-size="4.9" text-anchor="end" fill="#333" font-weight="normal" style="font-family:'Liberation Sans',sans-serif" >1.00</text>
<line x1="749.5" y1="390.3" x2="750.7" y2="390.3" stroke="#444" stroke-width="0.5"/>
<text x="748.6" y="392.0" font-size="4.9" text-anchor="end" fill="#333" font-weight="normal" style="font-family:'Liberation Sans',sans-serif" >0.75</text>
<line x1="749.5" y1="413.6" x2="750.7" y2="413.6" stroke="#444" stroke-width="0.5"/>
<text x="748.6" y="415.3" font-size="4.9" text-anchor="end" fill="#333" font-weight="normal" style="font-family:'Liberation Sans',sans-serif" >0.50</text>
<line x1="749.5" y1="437.1" x2="750.7" y2="437.1" stroke="#444" stroke-width="0.5"/>
<text x="748.6" y="438.8" font-size="4.9" text-anchor="end" fill="#333" font-weight="normal" style="font-family:'Liberation Sans',sans-serif" >0.25</text>
<line x1="749.5" y1="460.25" x2="750.7" y2="460.25" stroke="#444" stroke-width="0.5"/>
<text x="748.6" y="461.9" font-size="4.9" text-anchor="end" fill="#333" font-weight="normal" style="font-family:'Liberation Sans',sans-serif" >0.00</text>
<line x1="761.6" y1="464.6" x2="761.6" y2="465.8" stroke="#444" stroke-width="0.5"/>
<text x="761.6" y="470.7" font-size="4.7" text-anchor="middle" fill="#333" font-weight="normal" style="font-family:'Liberation Sans',sans-serif" >0</text>
<line x1="784.9" y1="464.6" x2="784.9" y2="465.8" stroke="#444" stroke-width="0.5"/>
<text x="784.9" y="470.7" font-size="4.7" text-anchor="middle" fill="#333" font-weight="normal" style="font-family:'Liberation Sans',sans-serif" >6</text>
<line x1="808.2" y1="464.6" x2="808.2" y2="465.8" stroke="#444" stroke-width="0.5"/>
<text x="808.2" y="470.7" font-size="4.7" text-anchor="middle" fill="#333" font-weight="normal" style="font-family:'Liberation Sans',sans-serif" >12</text>
<line x1="831.6" y1="464.6" x2="831.6" y2="465.8" stroke="#444" stroke-width="0.5"/>
<text x="831.6" y="470.7" font-size="4.7" text-anchor="middle" fill="#333" font-weight="normal" style="font-family:'Liberation Sans',sans-serif" >18</text>
<line x1="854.9" y1="464.6" x2="854.9" y2="465.8" stroke="#444" stroke-width="0.5"/>
<text x="854.9" y="470.7" font-size="4.7" text-anchor="middle" fill="#333" font-weight="normal" style="font-family:'Liberation Sans',sans-serif" >24</text>
<line x1="878.2" y1="464.6" x2="878.2" y2="465.8" stroke="#444" stroke-width="0.5"/>
<text x="878.2" y="470.7" font-size="4.7" text-anchor="middle" fill="#333" font-weight="normal" style="font-family:'Liberation Sans',sans-serif" >30</text>
<line x1="901.5" y1="464.6" x2="901.5" y2="465.8" stroke="#444" stroke-width="0.5"/>
<text x="901.5" y="470.7" font-size="4.7" text-anchor="middle" fill="#333" font-weight="normal" style="font-family:'Liberation Sans',sans-serif" >36</text>
<line x1="924.9" y1="464.6" x2="924.9" y2="465.8" stroke="#444" stroke-width="0.5"/>
<text x="924.9" y="470.7" font-size="4.7" text-anchor="middle" fill="#333" font-weight="normal" style="font-family:'Liberation Sans',sans-serif" >42</text>
<line x1="948.2" y1="464.6" x2="948.2" y2="465.8" stroke="#444" stroke-width="0.5"/>
<text x="948.2" y="470.7" font-size="4.7" text-anchor="middle" fill="#333" font-weight="normal" style="font-family:'Liberation Sans',sans-serif" >48</text>
<line x1="971.5" y1="464.6" x2="971.5" y2="465.8" stroke="#444" stroke-width="0.5"/>
<text x="971.5" y="470.7" font-size="4.7" text-anchor="middle" fill="#333" font-weight="normal" style="font-family:'Liberation Sans',sans-serif" >54</text>
<line x1="994.8" y1="464.6" x2="994.8" y2="465.8" stroke="#444" stroke-width="0.5"/>
<text x="994.8" y="470.7" font-size="4.7" text-anchor="middle" fill="#333" font-weight="normal" style="font-family:'Liberation Sans',sans-serif" >60</text>
<text x="878.6" y="476.5" font-size="5.9" text-anchor="middle" fill="#333" font-weight="normal" style="font-family:'Liberation Sans',sans-serif" >Time</text>
<text x="775.7" y="443.6" font-size="5.5" text-anchor="start" fill="#333" font-weight="normal" style="font-family:'Liberation Sans',sans-serif" >p = 0.28</text>
<text transform="translate(737.4,413.3) rotate(-90)" font-size="4.6" text-anchor="middle" fill="#333" style="font-family:'Liberation Sans',sans-serif">Probability</text>
<text x="896.0" y="485.9" font-size="4.65" text-anchor="middle" fill="#333" font-weight="normal" style="font-family:'Liberation Sans',sans-serif" >Number at risk: n (%)</text>
<text x="783.1" y="492.7" font-size="4.7" text-anchor="end" fill="#f4827a" font-weight="normal" style="font-family:'Liberation Sans',sans-serif" >(Neo-)Adjuvant Therapy</text>
<text x="783.1" y="500.8" font-size="4.7" text-anchor="end" fill="#1fbecb" font-weight="normal" style="font-family:'Liberation Sans',sans-serif" >No Systemic Therapy</text>
<text x="795.3" y="492.7" font-size="4.9" text-anchor="middle" fill="#333" font-weight="normal" style="font-family:'Liberation Sans',sans-serif" >101 (100)</text>
<text x="795.3" y="500.8" font-size="4.9" text-anchor="middle" fill="#333" font-weight="normal" style="font-family:'Liberation Sans',sans-serif" >143 (100)</text>
<text x="815.4" y="492.7" font-size="4.9" text-anchor="middle" fill="#333" font-weight="normal" style="font-family:'Liberation Sans',sans-serif" >73 (72)</text>
<text x="815.4" y="500.8" font-size="4.9" text-anchor="middle" fill="#333" font-weight="normal" style="font-family:'Liberation Sans',sans-serif" >57 (40)</text>
<text x="835.6" y="492.7" font-size="4.9" text-anchor="middle" fill="#333" font-weight="normal" style="font-family:'Liberation Sans',sans-serif" >48 (48)</text>
<text x="835.6" y="500.8" font-size="4.9" text-anchor="middle" fill="#333" font-weight="normal" style="font-family:'Liberation Sans',sans-serif" >48 (34)</text>
<text x="855.7" y="492.7" font-size="4.9" text-anchor="middle" fill="#333" font-weight="normal" style="font-family:'Liberation Sans',sans-serif" >44 (44)</text>
<text x="855.7" y="500.8" font-size="4.9" text-anchor="middle" fill="#333" font-weight="normal" style="font-family:'Liberation Sans',sans-serif" >43 (30)</text>
<text x="875.8" y="492.7" font-size="4.9" text-anchor="middle" fill="#333" font-weight="normal" style="font-family:'Liberation Sans',sans-serif" >38 (38)</text>
<text x="875.8" y="500.8" font-size="4.9" text-anchor="middle" fill="#333" font-weight="normal" style="font-family:'Liberation Sans',sans-serif" >38 (27)</text>
<text x="895.9" y="492.7" font-size="4.9" text-anchor="middle" fill="#333" font-weight="normal" style="font-family:'Liberation Sans',sans-serif" >25 (25)</text>
<text x="895.9" y="500.8" font-size="4.9" text-anchor="middle" fill="#333" font-weight="normal" style="font-family:'Liberation Sans',sans-serif" >26 (18)</text>
<text x="916.1" y="492.7" font-size="4.9" text-anchor="middle" fill="#333" font-weight="normal" style="font-family:'Liberation Sans',sans-serif" >20 (20)</text>
<text x="916.1" y="500.8" font-size="4.9" text-anchor="middle" fill="#333" font-weight="normal" style="font-family:'Liberation Sans',sans-serif" >20 (14)</text>
<text x="936.2" y="492.7" font-size="4.9" text-anchor="middle" fill="#333" font-weight="normal" style="font-family:'Liberation Sans',sans-serif" >16 (16)</text>
<text x="936.2" y="500.8" font-size="4.9" text-anchor="middle" fill="#333" font-weight="normal" style="font-family:'Liberation Sans',sans-serif" >16 (11)</text>
<text x="956.3" y="492.7" font-size="4.9" text-anchor="middle" fill="#333" font-weight="normal" style="font-family:'Liberation Sans',sans-serif" >11 (11)</text>
<text x="956.3" y="500.8" font-size="4.9" text-anchor="middle" fill="#333" font-weight="normal" style="font-family:'Liberation Sans',sans-serif" >11 (8)</text>
<text x="976.5" y="492.7" font-size="4.9" text-anchor="middle" fill="#333" font-weight="normal" style="font-family:'Liberation Sans',sans-serif" >7 (7)</text>
<text x="976.5" y="500.8" font-size="4.9" text-anchor="middle" fill="#333" font-weight="normal" style="font-family:'Liberation Sans',sans-serif" >8 (6)</text>
<text x="996.6" y="492.7" font-size="4.9" text-anchor="middle" fill="#333" font-weight="normal" style="font-family:'Liberation Sans',sans-serif" >5 (5)</text>
<text x="996.6" y="500.8" font-size="4.9" text-anchor="middle" fill="#333" font-weight="normal" style="font-family:'Liberation Sans',sans-serif" >8 (6)</text>
<rect x="742.9" y="510.2" width="254.10000000000002" height="7.500000000000057" fill="#cbcbcb"/>
<rect x="742.9" y="517.7" width="254.10000000000002" height="8.299999999999955" fill="#f3f3f3"/>
<rect x="742.9" y="526.0" width="254.10000000000002" height="7.899999999999977" fill="#e7e7e7"/>
<line x1="804.2" y1="510.2" x2="804.2" y2="533.9" stroke="#fff" stroke-width="0.6"/>
<line x1="856.3" y1="510.2" x2="856.3" y2="533.9" stroke="#fff" stroke-width="0.6"/>
<line x1="894" y1="510.2" x2="894" y2="533.9" stroke="#fff" stroke-width="0.6"/>
<line x1="962.6" y1="510.2" x2="962.6" y2="533.9" stroke="#fff" stroke-width="0.6"/>
<text x="773.5" y="515.8" font-size="5.3" text-anchor="middle" fill="#222" font-weight="bold" style="font-family:'Liberation Sans',sans-serif" >Strata</text>
<text x="773.5" y="523.8" font-size="5.3" text-anchor="middle" fill="#333" font-weight="normal" style="font-family:'Liberation Sans',sans-serif" >(Neo-)Adjuvant Therapy</text>
<text x="773.5" y="531.9" font-size="5.3" text-anchor="middle" fill="#333" font-weight="normal" style="font-family:'Liberation Sans',sans-serif" >No Systemic Therapy</text>
<text x="830.2" y="515.8" font-size="5.3" text-anchor="middle" fill="#222" font-weight="bold" style="font-family:'Liberation Sans',sans-serif" >Total patient count</text>
<text x="830.2" y="523.8" font-size="5.3" text-anchor="middle" fill="#333" font-weight="normal" style="font-family:'Liberation Sans',sans-serif" >101</text>
<text x="830.2" y="531.9" font-size="5.3" text-anchor="middle" fill="#333" font-weight="normal" style="font-family:'Liberation Sans',sans-serif" >143</text>
<text x="875.1" y="515.8" font-size="5.3" text-anchor="middle" fill="#222" font-weight="bold" style="font-family:'Liberation Sans',sans-serif" >Events n, (%)</text>
<text x="875.1" y="523.8" font-size="5.3" text-anchor="middle" fill="#333" font-weight="normal" style="font-family:'Liberation Sans',sans-serif" >17 , ( 16.83 )</text>
<text x="875.1" y="531.9" font-size="5.3" text-anchor="middle" fill="#333" font-weight="normal" style="font-family:'Liberation Sans',sans-serif" >28 , ( 19.58 )</text>
<text x="928.3" y="515.8" font-size="5.3" text-anchor="middle" fill="#222" font-weight="bold" style="font-family:'Liberation Sans',sans-serif" >Median (95% CI), months</text>
<text x="928.3" y="523.8" font-size="5.3" text-anchor="middle" fill="#333" font-weight="normal" style="font-family:'Liberation Sans',sans-serif" >65.18 , ( 43.47 , NA )</text>
<text x="928.3" y="531.9" font-size="5.3" text-anchor="middle" fill="#333" font-weight="normal" style="font-family:'Liberation Sans',sans-serif" >49.91 , ( 41.76 , 99.32 )</text>
<text x="979.8" y="515.8" font-size="5.3" text-anchor="middle" fill="#222" font-weight="bold" style="font-family:'Liberation Sans',sans-serif" >Q1, Q3</text>
<text x="979.8" y="523.8" font-size="5.3" text-anchor="middle" fill="#333" font-weight="normal" style="font-family:'Liberation Sans',sans-serif" >29.37 ,  NA</text>
<text x="979.8" y="531.9" font-size="5.3" text-anchor="middle" fill="#333" font-weight="normal" style="font-family:'Liberation Sans',sans-serif" >25.5 ,  99.32</text>
</g>
</svg>
<div class="abs lg" style="left:859.6px;top:542.3px;font-size:29.2px;line-height:30px;font-weight:bold;color:#cf1230;-webkit-text-stroke:0.45px #cf1230;transform-origin:0 0;transform:scaleX(0.855);white-space:nowrap">EAU</div>
<div class="abs lg" style="left:916px;top:542.3px;font-size:29.2px;line-height:30px;font-weight:bold;color:#25326b;-webkit-text-stroke:0.3px #25326b;transform-origin:0 0;transform:scaleX(0.985);white-space:nowrap">26</div>
<div class="abs" style="left:952.1px;top:545.9px;width:0.8px;height:22.2px;background:#dc6474"></div>
<div class="abs lg" style="left:956.6px;top:545.2px;font-size:10.4px;line-height:12px;color:#cf1e38;white-space:nowrap;transform-origin:0 0;transform:scaleX(0.937)">LONDON, GB</div>
<div class="abs lg" style="left:957.2px;top:559.9px;font-size:8.5px;line-height:10px;color:#cf1e38;white-space:nowrap;transform-origin:0 0;transform:scaleX(0.884)">13-16 March 2026</div>
</body></html>
